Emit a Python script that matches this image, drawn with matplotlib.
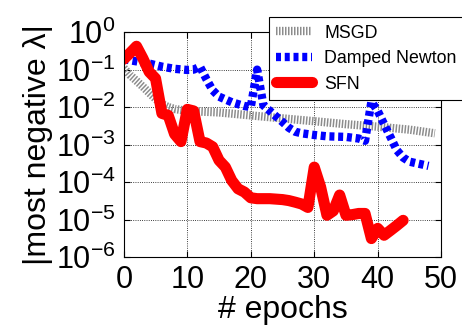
import matplotlib
matplotlib.use("Agg")
import matplotlib.pyplot as plt
from matplotlib.ticker import LogLocator, NullFormatter

plt.rcParams["font.family"] = ["Liberation Sans", "DejaVu Sans"]
plt.rcParams["mathtext.fontset"] = "custom"
plt.rcParams["mathtext.rm"] = "Liberation Sans"
plt.rcParams["mathtext.it"] = "Liberation Sans:italic"
plt.rcParams["mathtext.bf"] = "Liberation Sans:bold"

# data
msgd_epochs = [0, 1, 2, 3, 4, 5, 6, 7, 8, 10, 15, 20, 25, 30, 35, 40, 45, 49]
msgd_vals = [1.1e-1, 7.1e-2, 5.0e-2, 3.5e-2, 2.4e-2, 1.66e-2, 1.2e-2, 1.0e-2,
             8.9e-3, 7.9e-3, 7.2e-3, 6.0e-3, 5.0e-3, 4.2e-3, 3.5e-3, 3.0e-3,
             2.5e-3, 2.0e-3]

newton_epochs = [0, 2, 4, 6, 8, 10, 11, 12, 13, 14, 15, 16, 17, 18, 19, 20,
                 21, 22, 23, 24, 25, 26, 27, 28, 30, 32, 35, 37, 38, 39, 40,
                 41, 42, 43, 44, 45, 46, 48]
newton_vals = [1.9e-1, 1.66e-1, 1.45e-1, 1.2e-1, 1.05e-1, 9.8e-2, 1.0e-1,
               1.2e-1, 5.6e-2, 2.8e-2, 1.9e-2, 1.6e-2, 1.35e-2, 1.2e-2,
               1.07e-2, 1.0e-2, 1.0e-1, 1.1e-2, 7.9e-3, 5.6e-3, 4.0e-3,
               2.8e-3, 2.2e-3, 2.0e-3, 1.8e-3, 1.66e-3, 1.6e-3, 1.45e-3,
               1.26e-3, 1.4e-2, 7.9e-3, 3.5e-3, 1.6e-3, 7.1e-4, 4.5e-4,
               3.5e-4, 3.2e-4, 2.7e-4]

sfn_epochs = list(range(45))
sfn_vals = [1.9e-1, 2.8e-1, 4.2e-1, 2.0e-1, 8.7e-2, 5.8e-2, 6.8e-3, 6.0e-3,
            1.9e-3, 1.2e-3, 8.7e-3, 7.9e-3, 1.2e-3, 1.1e-3, 8.7e-4, 3.8e-4,
            2.5e-4, 1.1e-4, 6.6e-5, 5.4e-5, 3.8e-5, 3.6e-5, 3.6e-5, 3.6e-5,
            3.5e-5, 3.4e-5, 3.2e-5, 2.9e-5, 2.6e-5, 2.1e-5, 2.5e-4, 7.4e-5,
            1.3e-5, 1.7e-5, 4.5e-5, 1.3e-5, 1.35e-5, 1.45e-5, 1.45e-5,
            3.1e-6, 5.8e-6, 3.8e-6, 5.1e-6, 6.9e-6, 9.5e-6]

x_ticks = [0, 10, 20, 30, 40, 50]
y_ticks = [1e-6, 1e-5, 1e-4, 1e-3, 1e-2, 1e-1, 1e0]
y_labels = ["$10^{-6}$", "$10^{-5}$", "$10^{-4}$", "$10^{-3}$",
            "$10^{-2}$", "$10^{-1}$", "$10^{0}$"]

fig = plt.figure(figsize=(4.62, 3.28), dpi=100)
ax = fig.add_axes([0.268, 0.2165, 0.687, 0.6855])

ax.plot(msgd_epochs, msgd_vals, color="#8c8c8c", lw=6,
        dashes=(0.18, 0.18), dash_capstyle="butt", label="MSGD")
ax.plot(newton_epochs, newton_vals, color="#0000ff", lw=6,
        dashes=(0.6, 0.45), dash_capstyle="butt", label="Damped Newton")
ax.plot(sfn_epochs, sfn_vals, color="#ff0000", lw=8,
        solid_joinstyle="round", solid_capstyle="round", label="SFN")

ax.set_yscale("log")
ax.set_xlim(0, 50)
ax.set_ylim(1e-6, 1e0)
ax.set_xticks(x_ticks)
ax.set_xticklabels([str(t) for t in x_ticks])
ax.set_yticks(y_ticks)
ax.set_yticklabels(y_labels)
ax.yaxis.set_minor_locator(LogLocator(base=10, subs=range(2, 10)))
ax.yaxis.set_minor_formatter(NullFormatter())

ax.tick_params(which="both", direction="in", top=True, right=True,
               labelsize=22, pad=6)
ax.tick_params(which="major", length=4, width=0.8)
ax.tick_params(which="minor", length=2, width=0.6)
ax.grid(True, which="major", color="black", linestyle=":", linewidth=0.6)

ax.set_xlabel("# epochs", fontsize=23, labelpad=0)
ax.set_ylabel("|most negative λ|", fontsize=23, labelpad=2)

leg = ax.legend(loc="upper left", bbox_to_anchor=(0.582, 0.948),
                bbox_transform=fig.transFigure, fontsize=12.8,
                fancybox=False, framealpha=1, edgecolor="black",
                handlelength=2.0, handletextpad=0.7, borderpad=0.42,
                labelspacing=0.48, borderaxespad=0)
leg.get_frame().set_linewidth(0.8)
leg.set_zorder(10)

fig.savefig("out.png", dpi=100, facecolor="white")
